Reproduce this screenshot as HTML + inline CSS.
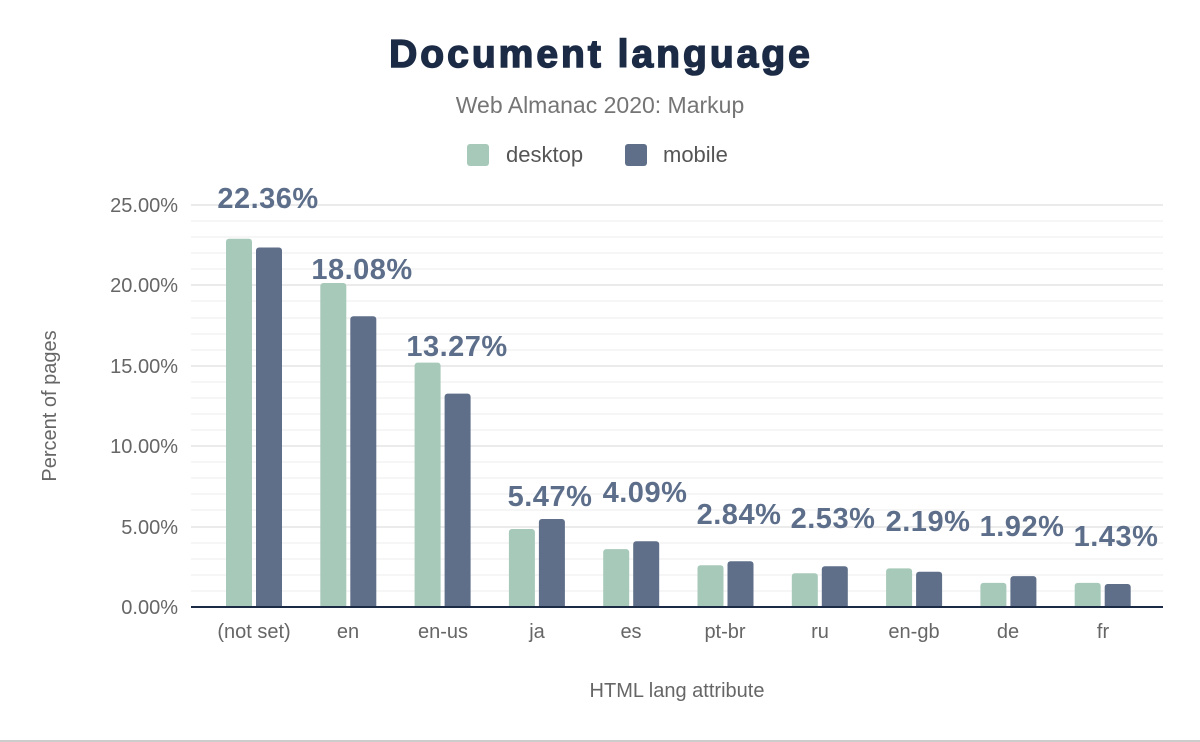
<!DOCTYPE html>
<html><head><style>body{margin:0;background:#fff}svg{display:block}text{font-family:"Liberation Sans",sans-serif}</style></head><body>
<svg width="1200" height="742" viewBox="0 0 1200 742" xmlns="http://www.w3.org/2000/svg">
<text x="601" y="67" text-anchor="middle" font-size="39" font-weight="bold" fill="#1c2b45" stroke="#1c2b45" stroke-width="1.5" style="letter-spacing:3px">Document language</text>
<text x="600" y="113" text-anchor="middle" font-size="23" fill="#757575">Web Almanac 2020: Markup</text>
<rect x="467" y="144" width="22" height="22" rx="3" fill="#a7c9b9"/>
<text x="506" y="162" font-size="22" fill="#555">desktop</text>
<rect x="625" y="144" width="22" height="22" rx="3" fill="#5f6f89"/>
<text x="663" y="162" font-size="22" fill="#555">mobile</text>
<g stroke="#f3f3f3" stroke-width="1.5">
<line x1="191" x2="1163" y1="591" y2="591"/><line x1="191" x2="1163" y1="575" y2="575"/><line x1="191" x2="1163" y1="559" y2="559"/><line x1="191" x2="1163" y1="543" y2="543"/>
<line x1="191" x2="1163" y1="510" y2="510"/><line x1="191" x2="1163" y1="494" y2="494"/><line x1="191" x2="1163" y1="478" y2="478"/><line x1="191" x2="1163" y1="462" y2="462"/>
<line x1="191" x2="1163" y1="430" y2="430"/><line x1="191" x2="1163" y1="414" y2="414"/><line x1="191" x2="1163" y1="398" y2="398"/><line x1="191" x2="1163" y1="382" y2="382"/>
<line x1="191" x2="1163" y1="350" y2="350"/><line x1="191" x2="1163" y1="334" y2="334"/><line x1="191" x2="1163" y1="318" y2="318"/><line x1="191" x2="1163" y1="301" y2="301"/>
<line x1="191" x2="1163" y1="269" y2="269"/><line x1="191" x2="1163" y1="253" y2="253"/><line x1="191" x2="1163" y1="237" y2="237"/><line x1="191" x2="1163" y1="221" y2="221"/>
</g>
<g stroke="#ebebeb" stroke-width="2">
<line x1="191" x2="1163" y1="527" y2="527"/><line x1="191" x2="1163" y1="446" y2="446"/><line x1="191" x2="1163" y1="366" y2="366"/><line x1="191" x2="1163" y1="285" y2="285"/><line x1="191" x2="1163" y1="205" y2="205"/>
</g>
<g font-size="20" fill="#666" text-anchor="end">
<text x="178" y="614">0.00%</text><text x="178" y="534">5.00%</text><text x="178" y="453">10.00%</text><text x="178" y="373">15.00%</text><text x="178" y="292">20.00%</text><text x="178" y="212">25.00%</text>
</g>
<text transform="translate(56,406) rotate(-90)" text-anchor="middle" font-size="20" fill="#666">Percent of pages</text>
<text x="677" y="697" text-anchor="middle" font-size="20" fill="#666">HTML lang attribute</text>
<g fill="#a7c9b9">
<rect x="226" y="238.8" width="26" height="372" rx="3"/>
<rect x="320.3" y="283" width="26" height="328" rx="3"/>
<rect x="414.6" y="362.6" width="26" height="248" rx="3"/>
<rect x="508.9" y="529" width="26" height="82" rx="3"/>
<rect x="603.2" y="549.1" width="26" height="62" rx="3"/>
<rect x="697.5" y="565.2" width="26" height="46" rx="3"/>
<rect x="791.8" y="573.2" width="26" height="38" rx="3"/>
<rect x="886.1" y="568.4" width="26" height="43" rx="3"/>
<rect x="980.4" y="582.9" width="26" height="28" rx="3"/>
<rect x="1074.7" y="582.9" width="26" height="28" rx="3"/>
</g>
<g fill="#5f6f89">
<rect x="256" y="247.5" width="26" height="363" rx="3"/>
<rect x="350.3" y="316.3" width="26" height="295" rx="3"/>
<rect x="444.6" y="393.6" width="26" height="217" rx="3"/>
<rect x="538.9" y="519" width="26" height="92" rx="3"/>
<rect x="633.2" y="541.2" width="26" height="70" rx="3"/>
<rect x="727.5" y="561.3" width="26" height="50" rx="3"/>
<rect x="821.8" y="566.3" width="26" height="45" rx="3"/>
<rect x="916.1" y="571.8" width="26" height="39" rx="3"/>
<rect x="1010.4" y="576.1" width="26" height="35" rx="3"/>
<rect x="1104.7" y="584" width="26" height="27" rx="3"/>
</g>
<rect x="191" y="608" width="972" height="8" fill="#fff"/>
<g font-size="29" font-weight="bold" fill="#5c6e8a" text-anchor="middle" style="letter-spacing:0.5px">
<text x="268" y="208">22.36%</text>
<text x="362" y="279">18.08%</text>
<text x="457" y="356">13.27%</text>
<text x="550" y="506">5.47%</text>
<text x="645" y="502">4.09%</text>
<text x="739" y="524">2.84%</text>
<text x="833" y="528">2.53%</text>
<text x="928" y="531">2.19%</text>
<text x="1022" y="536">1.92%</text>
<text x="1116" y="546">1.43%</text>
</g>
<g font-size="20" fill="#666" text-anchor="middle">
<text x="254" y="638">(not set)</text>
<text x="348" y="638">en</text>
<text x="443" y="638">en-us</text>
<text x="537" y="638">ja</text>
<text x="631" y="638">es</text>
<text x="725" y="638">pt-br</text>
<text x="820" y="638">ru</text>
<text x="914" y="638">en-gb</text>
<text x="1008" y="638">de</text>
<text x="1103" y="638">fr</text>
</g>
<line x1="191" x2="1163" y1="607" y2="607" stroke="#1c2b45" stroke-width="2"/>
<line x1="0" x2="1200" y1="741" y2="741" stroke="#999" stroke-width="1"/>
</svg>
</body></html>
